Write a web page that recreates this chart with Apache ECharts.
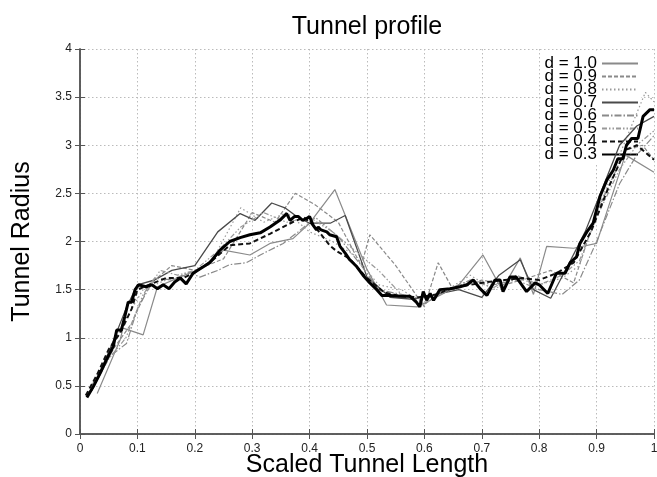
<!DOCTYPE html>
<html>
<head>
<meta charset="utf-8">
<script src="https://cdn.jsdelivr.net/npm/echarts@6/dist/echarts.min.js"></script>
<style>
  html, body { margin: 0; padding: 0; background: #fff; }
  #chart { width: 657px; height: 477px; }
</style>
</head>
<body>
<div id="chart"></div>
<script>
// [scaled length, radius] per run
const d10 = [[0.03,0.42],[0.07,0.98],[0.075,1.10],[0.11,1.03],[0.135,1.53],[0.17,1.62],[0.21,1.72],[0.25,1.91],[0.296,1.86],[0.331,1.98],[0.371,2.03],[0.40,2.19],[0.444,2.54],[0.50,1.71],[0.534,1.34],[0.587,1.32],[0.63,1.45],[0.66,1.55],[0.702,1.86],[0.735,1.50],[0.767,1.83],[0.79,1.45],[0.813,1.95],[0.86,1.93],[0.90,1.98],[0.95,2.90],[1.0,2.72]];
const d09 = [[0.02,0.45],[0.06,0.90],[0.09,1.15],[0.12,1.55],[0.16,1.75],[0.20,1.70],[0.25,1.82],[0.30,2.30],[0.34,2.20],[0.375,2.50],[0.41,2.38],[0.45,2.20],[0.49,1.75],[0.505,2.07],[0.55,1.75],[0.60,1.32],[0.624,1.78],[0.65,1.50],[0.70,1.60],[0.74,1.55],[0.78,1.62],[0.82,1.70],[0.86,1.57],[0.90,2.30],[0.95,2.95],[0.98,3.00],[1.0,2.85]];
const d08 = [[0.02,0.50],[0.05,0.85],[0.08,1.20],[0.11,1.50],[0.15,1.60],[0.19,1.65],[0.23,1.80],[0.28,2.35],[0.32,2.20],[0.36,2.30],[0.40,2.10],[0.44,2.00],[0.48,1.85],[0.52,1.55],[0.56,1.50],[0.60,1.35],[0.64,1.50],[0.68,1.65],[0.72,1.50],[0.76,1.62],[0.80,1.55],[0.84,1.62],[0.87,1.75],[0.90,2.30],[0.94,2.90],[0.985,3.55],[1.0,3.45]];
const d07 = [[0.02,0.45],[0.05,0.85],[0.08,1.30],[0.10,1.55],[0.13,1.60],[0.16,1.70],[0.20,1.75],[0.24,2.10],[0.279,2.29],[0.305,2.22],[0.334,2.40],[0.357,2.35],[0.38,2.25],[0.40,2.19],[0.436,2.19],[0.462,2.27],[0.50,1.63],[0.54,1.42],[0.58,1.40],[0.62,1.45],[0.66,1.50],[0.70,1.42],[0.73,1.65],[0.767,1.81],[0.79,1.50],[0.82,1.41],[0.85,1.75],[0.88,2.10],[0.91,2.55],[0.94,3.00],[0.97,3.20],[1.0,3.30]];
const d06 = [[0.02,0.50],[0.05,0.80],[0.081,0.94],[0.10,1.30],[0.13,1.62],[0.16,1.60],[0.19,1.68],[0.209,1.63],[0.24,1.70],[0.261,1.76],[0.29,1.78],[0.314,1.86],[0.354,1.98],[0.38,2.10],[0.41,2.25],[0.45,2.05],[0.49,1.75],[0.52,1.50],[0.56,1.45],[0.60,1.35],[0.64,1.50],[0.68,1.60],[0.72,1.55],[0.76,1.60],[0.80,1.50],[0.84,1.45],[0.87,1.60],[0.90,2.00],[0.94,2.60],[0.97,2.90],[1.0,3.10]];
const d05 = [[0.02,0.45],[0.05,0.78],[0.08,1.00],[0.11,1.45],[0.14,1.70],[0.17,1.65],[0.20,1.70],[0.24,1.90],[0.28,2.15],[0.32,2.30],[0.36,2.20],[0.40,2.25],[0.44,2.10],[0.48,1.90],[0.52,1.70],[0.56,1.45],[0.60,1.40],[0.64,1.48],[0.68,1.60],[0.72,1.52],[0.76,1.65],[0.80,1.55],[0.84,1.65],[0.87,1.80],[0.90,2.25],[0.94,2.75],[0.97,3.00],[1.0,3.15]];
const d04 = [[0.01,0.40],[0.03,0.62],[0.05,0.88],[0.07,1.05],[0.09,1.30],[0.10,1.50],[0.12,1.55],[0.15,1.62],[0.18,1.62],[0.20,1.68],[0.23,1.80],[0.261,1.96],[0.296,1.98],[0.331,2.08],[0.37,2.20],[0.39,2.25],[0.41,2.15],[0.435,1.96],[0.447,1.90],[0.47,1.82],[0.50,1.62],[0.53,1.47],[0.56,1.43],[0.59,1.42],[0.62,1.45],[0.65,1.52],[0.68,1.55],[0.71,1.58],[0.74,1.60],[0.77,1.62],[0.80,1.60],[0.83,1.67],[0.86,1.78],[0.89,2.10],[0.92,2.55],[0.95,2.95],[0.97,3.00],[0.99,2.90],[1.0,2.85]];
const d03 = [[0.012,0.38],[0.023,0.49],[0.035,0.63],[0.046,0.77],[0.058,0.91],[0.064,1.08],[0.072,1.08],[0.078,1.22],[0.084,1.37],[0.090,1.37],[0.096,1.50],[0.102,1.55],[0.115,1.53],[0.125,1.55],[0.135,1.51],[0.145,1.55],[0.155,1.51],[0.165,1.58],[0.175,1.62],[0.185,1.56],[0.197,1.67],[0.21,1.72],[0.226,1.78],[0.244,1.91],[0.261,2.00],[0.279,2.04],[0.296,2.07],[0.314,2.09],[0.331,2.15],[0.348,2.22],[0.36,2.29],[0.366,2.22],[0.374,2.26],[0.38,2.26],[0.388,2.22],[0.395,2.24],[0.40,2.26],[0.406,2.17],[0.412,2.12],[0.415,2.15],[0.42,2.12],[0.43,2.10],[0.435,2.07],[0.447,2.05],[0.453,1.95],[0.462,1.88],[0.47,1.81],[0.482,1.74],[0.493,1.65],[0.505,1.57],[0.517,1.50],[0.526,1.44],[0.54,1.44],[0.556,1.43],[0.575,1.43],[0.586,1.37],[0.592,1.32],[0.598,1.48],[0.604,1.39],[0.61,1.46],[0.616,1.39],[0.627,1.50],[0.645,1.51],[0.662,1.53],[0.674,1.55],[0.685,1.60],[0.697,1.51],[0.709,1.44],[0.723,1.60],[0.732,1.60],[0.737,1.48],[0.749,1.63],[0.76,1.63],[0.778,1.48],[0.793,1.57],[0.80,1.55],[0.815,1.46],[0.83,1.67],[0.845,1.67],[0.854,1.78],[0.865,1.84],[0.871,1.98],[0.883,2.10],[0.894,2.19],[0.906,2.47],[0.918,2.64],[0.929,2.74],[0.937,2.86],[0.946,2.86],[0.952,3.00],[0.961,3.07],[0.972,3.07],[0.981,3.30],[0.993,3.37],[1.0,3.37]];

const names = ['d = 1.0', 'd = 0.9', 'd = 0.8', 'd = 0.7', 'd = 0.6', 'd = 0.5', 'd = 0.4', 'd = 0.3'];
const runs = [d10, d09, d08, d07, d06, d05, d04, d03];
const xTicks = [0, 0.1, 0.2, 0.3, 0.4, 0.5, 0.6, 0.7, 0.8, 0.9, 1];

const looks = [
  { color: '#8a8a8a', width: 1.2, type: 'solid' },
  { color: '#8a8a8a', width: 1.2, type: [4, 2] },
  { color: '#999', width: 1.2, type: [1.5, 2.5] },
  { color: '#4a4a4a', width: 1.3, type: 'solid' },
  { color: '#8a8a8a', width: 1.2, type: [7, 2, 1.5, 2] },
  { color: '#999', width: 1.2, type: [5, 2, 1.5, 2, 1.5, 2] },
  { color: '#111', width: 2, type: [5, 3] },
  { color: '#000', width: 3, type: 'solid' }
];

const chart = echarts.init(document.getElementById('chart'));
const font = 'Liberation Sans, Arial, sans-serif';
const axisLine = { show: true, lineStyle: { color: '#555', width: 1.5 } };
const tick = { show: true, inside: true, length: 5, lineStyle: { color: '#555', width: 1 } };
const grid = { show: true, lineStyle: { color: '#bbb', type: [1.5, 2.5], width: 1 } };

chart.setOption({
  animation: false,
  title: {
    text: 'Tunnel profile', left: 362, top: 10, textAlign: 'center',
    textStyle: { fontFamily: font, fontSize: 25, fontWeight: 'normal', color: '#000' }
  },
  legend: {
    orient: 'vertical', right: 16, top: 53, align: 'right', z: 1,
    backgroundColor: '#fff', padding: [2, 2, 2, 4],
    itemWidth: 36, itemHeight: 13, itemGap: -4,
    itemStyle: { opacity: 0 },
    textStyle: { fontFamily: font, fontSize: 17, lineHeight: 13, color: '#000' },
    data: names
  },
  grid: { left: 80, right: 3, top: 49, bottom: 43, outerBoundsMode: 'none' },
  xAxis: [
    {
      type: 'value', min: 0, max: 1, interval: 0.1,
      name: 'Scaled Tunnel Length', nameLocation: 'middle', nameGap: 19, nameMoveOverlap: false,
      nameTextStyle: { fontFamily: font, fontSize: 25, color: '#000' },
      axisLine: axisLine, axisTick: tick, splitLine: grid,
      axisLabel: { fontFamily: font, fontSize: 12, color: '#222', margin: 9,
        formatter: v => xTicks.includes(Math.round(v * 10) / 10) ? String(Math.round(v * 10) / 10) : '' }
    },
    {
      type: 'value', min: 0, max: 1, interval: 0.1, position: 'top',
      axisLine: axisLine, axisTick: tick, splitLine: { show: false }, axisLabel: { show: false }
    }
  ],
  yAxis: [
    {
      type: 'value', min: 0, max: 4, interval: 0.5,
      name: 'Tunnel Radius', nameLocation: 'middle', nameGap: 45, nameRotate: 90,
      nameTextStyle: { fontFamily: font, fontSize: 25, color: '#000' },
      axisLine: axisLine, axisTick: tick, splitLine: grid,
      axisLabel: { fontFamily: font, fontSize: 12, color: '#222', margin: 8 }
    },
    {
      type: 'value', min: 0, max: 4, interval: 0.5, position: 'right',
      axisLine: axisLine, axisTick: tick, splitLine: { show: false }, axisLabel: { show: false }
    }
  ],
  series: runs.map((run, i) => ({
    name: names[i],
    type: 'line',
    data: run,
    symbol: 'none',
    z: 2 + i,
    lineStyle: { color: looks[i].color, width: looks[i].width, type: looks[i].type },
    itemStyle: { color: looks[i].color }
  }))
});
</script>
</body>
</html>
